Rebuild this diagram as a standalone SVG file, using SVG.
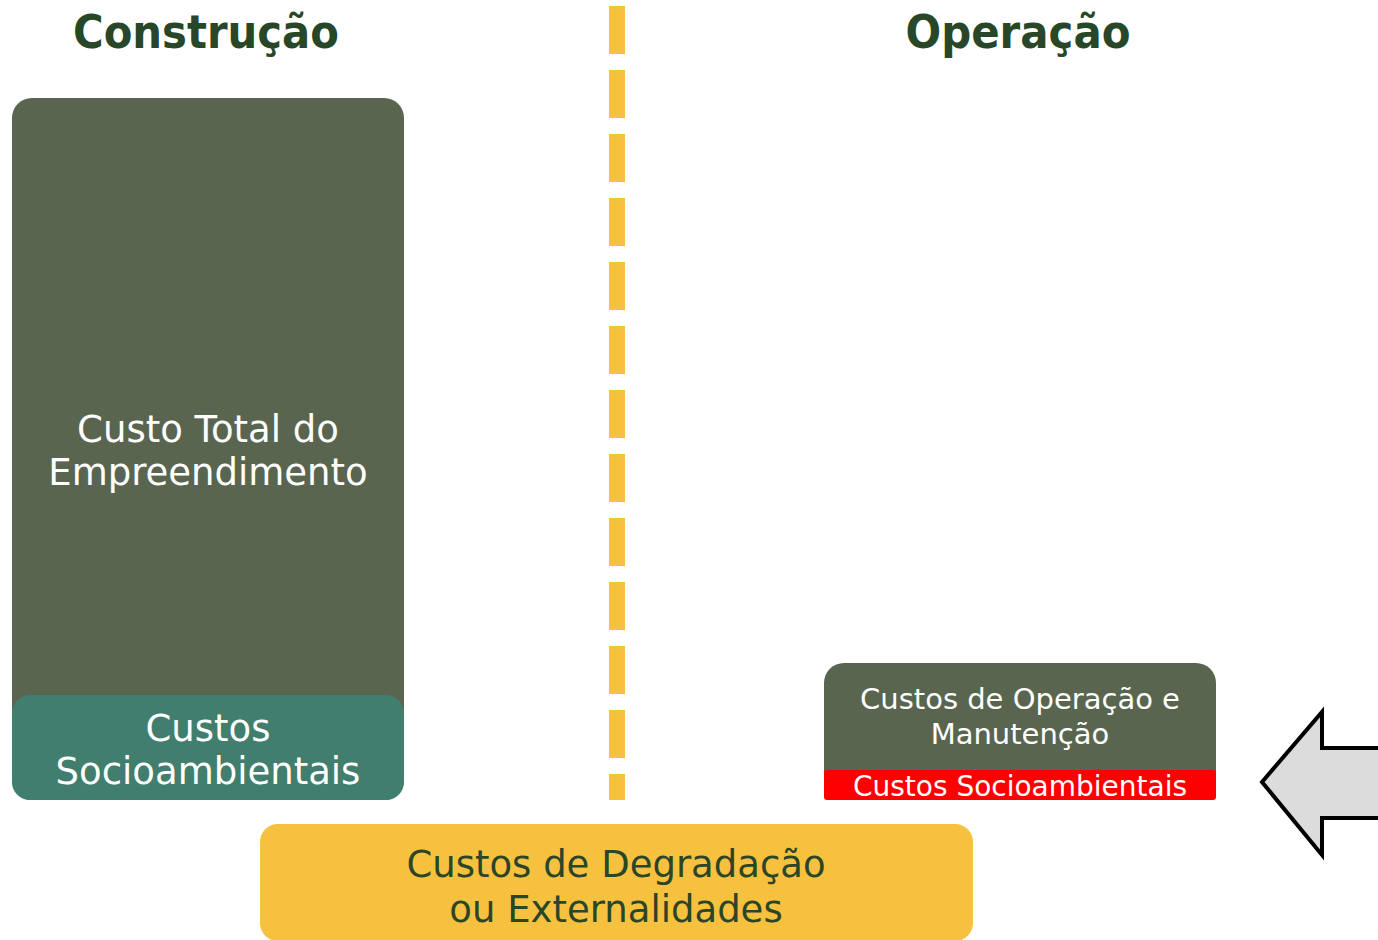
<svg xmlns="http://www.w3.org/2000/svg" width="1378" height="940" viewBox="0 0 1378 940">
<style>
.hdr{font-family:"DejaVu Sans",Verdana,sans-serif;font-weight:bold;fill:#284628;text-anchor:middle}
.w{font-family:"DejaVu Sans",Verdana,sans-serif;fill:#ffffff;text-anchor:middle}
.dk{font-family:"DejaVu Sans",Verdana,sans-serif;fill:#2b4528;text-anchor:middle}
</style>
<rect width="1378" height="940" fill="#ffffff"/>
<g id="headers">
<text class="hdr" x="206" y="48" font-size="46" textLength="266" lengthAdjust="spacingAndGlyphs">Construção</text>
<text class="hdr" x="1018" y="48" font-size="46" textLength="225" lengthAdjust="spacingAndGlyphs">Operação</text>
</g>
<g id="connectors">
<line x1="617" y1="6" x2="617" y2="800" stroke="#f6c13f" stroke-width="16" stroke-dasharray="48 16"/>
<polygon points="1262,782 1322,712 1322,748 1382,748 1382,818 1322,818 1322,855" fill="#dcdcdc" stroke="#000000" stroke-width="4" stroke-linejoin="miter"/>
</g>
<g id="custo-total">
<rect x="12" y="98" width="392" height="702" rx="20" ry="20" fill="#5a6550"/>
<text class="w" x="208" y="442" font-size="37">Custo Total do</text>
<text class="w" x="208" y="485" font-size="37">Empreendimento</text>
</g>
<g id="custos-socio-construcao">
<rect x="12" y="695" width="392" height="105" rx="18" ry="18" fill="#417e6e"/>
<text class="w" x="208" y="741" font-size="37">Custos</text>
<text class="w" x="208" y="784" font-size="37">Socioambientais</text>
</g>
<g id="custos-operacao">
<rect x="824" y="663" width="392" height="137" rx="20" ry="20" fill="#5a6550"/>
<text class="w" x="1020" y="709" font-size="29">Custos de Operação e</text>
<text class="w" x="1020" y="744" font-size="29">Manutenção</text>
</g>
<g id="custos-socio-operacao">
<rect x="824" y="770" width="392" height="30" rx="3" ry="3" fill="#ff0000"/>
<text class="w" x="1020" y="796" font-size="28">Custos Socioambientais</text>
</g>
<g id="custos-degradacao">
<rect x="260" y="824" width="713" height="117" rx="18" ry="18" fill="#f6c13f"/>
<text class="dk" x="616" y="877" font-size="37">Custos de Degradação</text>
<text class="dk" x="616" y="922" font-size="37">ou Externalidades</text>
</g>
</svg>
